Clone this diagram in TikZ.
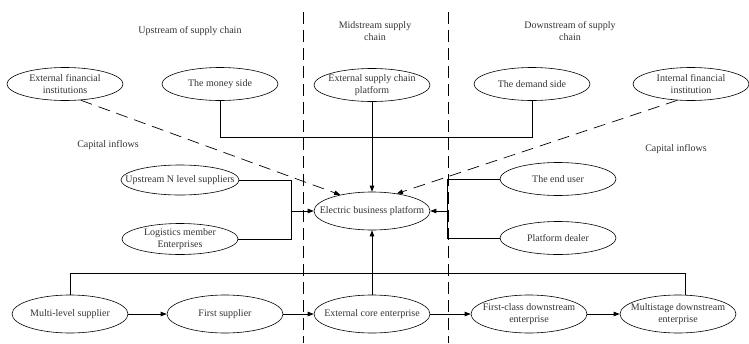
\documentclass[tikz,border=0pt]{standalone}
\usepackage{fontspec}
\setmainfont{Liberation Serif}
\usetikzlibrary{shapes.geometric,arrows.meta}
\tikzset{
  oval/.style={ellipse,draw,line width=0.6pt,inner xsep=-15pt,inner ysep=-2pt,minimum width=116pt,minimum height=33pt,align=center,text=black!80,font=\fontsize{10}{11.5}\selectfont},
  bigoval/.style={oval,minimum height=38pt},
  label txt/.style={align=center,text=black!80,font=\fontsize{10}{11.5}\selectfont},
  link/.style={line width=0.7pt},
  arr/.style={link,-{Triangle[length=6pt,width=4.5pt]}},
  divider/.style={line width=0.7pt,dash pattern=on 12pt off 6pt},
  flow/.style={arr,dash pattern=on 12pt off 7pt}
}
\begin{document}
\begin{tikzpicture}[x=1pt,y=-1pt]
        \useasboundingbox (0,0) rectangle (749,343);
        % section dividers
        \coordinate (divl top) at (303,12);
        \coordinate (divl bot) at (303,343);
        \coordinate (divr top) at (448,12);
        \coordinate (divr bot) at (448,343);
        \draw[divider] (divl top) -- (divl bot);
        \draw[divider] (divr top) -- (divr bot);
        % headings
        \node[label txt] (upstream)   at (190,31) {Upstream of supply chain};
        \node[label txt] (midstream)  at (375,31) {Midstream supply\\chain};
        \node[label txt] (downstream) at (570,31) {Downstream of supply\\chain};
        \node[label txt] (capleft)    at (108,145) {Capital inflows};
        \node[label txt] (capright)   at (676,149) {Capital inflows};
        % top row
        \node[oval] (finext)  at (65,84)  {External financial\\institutions};
        \node[oval] (money)   at (220,84) {The money side};
        \node[oval] (platext) at (372,85) {External supply chain\\platform};
        \node[oval] (demand)  at (532,84) {The demand side};
        \node[oval] (finint)  at (691,84) {Internal financial\\institution};
        % middle
        \node[bigoval] (ebp)       at (372,211) {Electric business platform};
        \node[oval,minimum width=118pt,minimum height=30pt] (upN) at (180,180) {Upstream N level suppliers};
        \node[oval,minimum height=31pt] (logistics) at (180,239) {Logistics member\\Enterprises};
        \node[oval] (enduser) at (558,179) {The end user};
        \node[oval] (dealer)  at (558,238) {Platform dealer};
        % bottom row
        \node[bigoval] (multi)      at (70,314)  {Multi-level supplier};
        \node[bigoval] (first)      at (225,314) {First supplier};
        \node[bigoval] (core)       at (372,314) {External core enterprise};
        \node[bigoval] (firstclass) at (529,314) {First-class downstream\\enterprise};
        \node[bigoval] (multistage) at (678,314) {Multistage downstream\\enterprise};
        % junctions
        \coordinate (tbus)  at (532,137);
        \coordinate (ljoin) at (291,211);
        \coordinate (rjoin) at (447,211);
        \coordinate (bbus)  at (685,273);
        % connectors
        \draw[link] (money.south) |- (tbus) -- (demand.south);
        \draw[arr]  (platext.south) -- (ebp.north);
        \draw[flow] (finext.-46) -- (ebp.153);
        \draw[flow] (finint.-130) -- (ebp.35);
        \draw[link] (upN.east) -| (ljoin);
        \draw[link] (logistics.east) -| (ljoin);
        \draw[arr]  (ljoin) -- (ebp.west);
        \draw[link] (enduser.west) -| (rjoin);
        \draw[link] (dealer.west) -| (rjoin);
        \draw[arr]  (rjoin) -- (ebp.east);
        \draw[arr]  (core.north) -- (ebp.south);
        \draw[arr]  (multi.east) -- (first.west);
        \draw[arr]  (first.east) -- (core.west);
        \draw[arr]  (core.east) -- (firstclass.west);
        \draw[arr]  (firstclass.east) -- (multistage.west);
        \draw[link] (multi.north) |- (bbus) -- ([xshift=7pt]multistage.north);
      \end{tikzpicture}
\end{document}
